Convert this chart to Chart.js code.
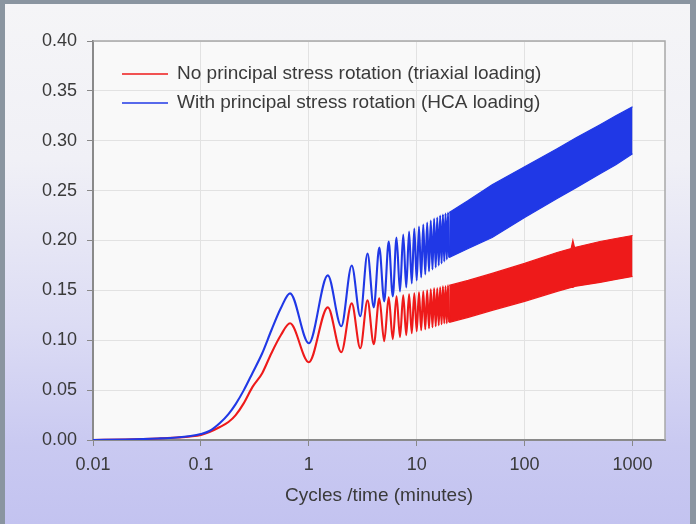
<!DOCTYPE html>
<html><head><meta charset="utf-8">
<script src="https://cdn.jsdelivr.net/npm/chart.js@4/dist/chart.umd.min.js"></script>
<style>
html,body{margin:0;padding:0;width:696px;height:524px;overflow:hidden;background:#8a95a0;}
#frame{position:absolute;left:5px;top:4px;width:685px;height:520px;
  background:linear-gradient(to bottom,#f5f5f7 0%,#f0f0f6 30%,#dcdcf4 62%,#c9c9f1 85%,#c3c3f0 100%);}
#wrap{position:absolute;left:0;top:0;width:696px;height:524px;}
</style></head><body>
<div id="frame"></div>
<div id="wrap"><canvas id="c" width="696" height="524"></canvas></div>
<script>
// ---- data ----
const legendLabels = ["No principal stress rotation (triaxial loading)", "With principal stress rotation (HCA loading)"];
const xTitle = "Cycles /time (minutes)";
const xTickValues = [0.01, 0.1, 1, 10, 100, 1000];
const xTickLabels = ["0.01", "0.1", "1", "10", "100", "1000"];
const yTickValues = [0, 0.05, 0.1, 0.15, 0.2, 0.25, 0.3, 0.35, 0.4];
const yTickLabels = ["0.00", "0.05", "0.10", "0.15", "0.20", "0.25", "0.30", "0.35", "0.40"];

// initial rise (before first cycle peak)
const earlyX    = [0.01, 0.02, 0.04, 0.06, 0.08, 0.1, 0.12, 0.15, 0.18, 0.21, 0.25, 0.3, 0.37, 0.45, 0.55, 0.67];
const redEarly  = [0, 0.0005, 0.0015, 0.0025, 0.0035, 0.005, 0.008, 0.013, 0.018, 0.025, 0.037, 0.053, 0.067, 0.087, 0.105, 0.117];
const blueEarly = [0, 0.0005, 0.0015, 0.0025, 0.004, 0.006, 0.009, 0.017, 0.026, 0.036, 0.05, 0.067, 0.087, 0.11, 0.132, 0.147];

// individual cycles (troughs at whole minutes, peaks half-way)
const cycleX = [1, 1.5, 2, 2.5, 3, 3.5, 4, 4.5, 5, 5.5, 6, 6.5, 7, 7.5, 8, 8.5, 9, 9.5, 10, 10.5,
                11, 11.5, 12, 12.5, 13, 13.5, 14, 14.5, 15, 15.5, 16, 16.5, 17, 17.5, 18, 18.5, 19, 19.5, 20];
const redCycle = [0.078, 0.133, 0.088, 0.137, 0.092, 0.140, 0.096, 0.142, 0.099, 0.143, 0.101, 0.144, 0.103, 0.145,
                  0.105, 0.146, 0.107, 0.147, 0.109, 0.148, 0.110, 0.149, 0.111, 0.150, 0.112, 0.151, 0.113, 0.152,
                  0.114, 0.152, 0.115, 0.153, 0.116, 0.154, 0.117, 0.154, 0.117, 0.155, 0.118];
const blueCycle = [0.097, 0.165, 0.114, 0.175, 0.124, 0.187, 0.133, 0.193, 0.139, 0.199, 0.144, 0.203, 0.149, 0.206,
                   0.153, 0.209, 0.157, 0.212, 0.160, 0.214, 0.163, 0.216, 0.166, 0.218, 0.169, 0.220, 0.171, 0.222,
                   0.173, 0.223, 0.175, 0.225, 0.177, 0.226, 0.179, 0.227, 0.181, 0.228, 0.183];

// dense oscillation band (upper / lower envelope)
const blueBandX     = [20, 30, 50, 100, 200, 300, 500, 700, 1000];
const blueBandUpper = [0.228, 0.240, 0.256, 0.274, 0.292, 0.303, 0.316, 0.325, 0.334];
const blueBandLower = [0.183, 0.192, 0.203, 0.223, 0.242, 0.253, 0.267, 0.276, 0.287];
const redBandX      = [20, 30, 50, 100, 200, 270, 280, 290, 500, 700, 1000];
const redBandUpper  = [0.155, 0.160, 0.167, 0.177, 0.188, 0.192, 0.200, 0.193, 0.199, 0.202, 0.205];
const redBandLower  = [0.118, 0.123, 0.130, 0.139, 0.149, 0.153, 0.153, 0.154, 0.158, 0.161, 0.164];

// ---- build ----
const RED = '#ee1a1a', BLUE = '#2038e6';
const pts = (xs, ys) => xs.map((x, i) => ({x: x, y: ys[i]}));
const FONT = "'Liberation Sans', Arial, sans-serif";

const decor = {
  id: 'decor',
  beforeDraw(chart) {
    const {ctx, chartArea: a} = chart;
    ctx.save();
    ctx.fillStyle = '#f9f9f9';
    ctx.fillRect(a.left, a.top, a.right - a.left, a.bottom - a.top);
    ctx.restore();
  },
  beforeDatasetsDraw(chart) {
    const {ctx, chartArea: a} = chart;
    ctx.save();
    ctx.strokeStyle = '#a8a8a8';
    ctx.lineWidth = 1.5;
    ctx.beginPath();
    ctx.moveTo(a.left, a.top); ctx.lineTo(a.right, a.top); ctx.lineTo(a.right, a.bottom);
    ctx.stroke();
    ctx.restore();
  },
  afterDraw(chart) {
    const {ctx, chartArea: a} = chart;
    const cols = [RED, BLUE];
    ctx.save();
    ctx.font = "19px " + FONT;
    ctx.textBaseline = 'middle';
    legendLabels.forEach((t, i) => {
      const y = a.top + 33 + i * 29;
      ctx.strokeStyle = cols[i]; ctx.lineWidth = 1.6;
      ctx.beginPath(); ctx.moveTo(a.left + 29, y); ctx.lineTo(a.left + 75, y); ctx.stroke();
      ctx.fillStyle = '#3a3a3a';
      ctx.fillText(t, a.left + 84, y);
    });
    ctx.restore();
  }
};

const lineBase = {pointRadius: 0, borderWidth: 2.1, cubicInterpolationMode: 'monotone', fill: false};

new Chart(document.getElementById('c'), {
  type: 'line',
  data: {
    datasets: [
      Object.assign({}, lineBase, {label: legendLabels[1], data: pts(earlyX.concat(cycleX), blueEarly.concat(blueCycle)), borderColor: BLUE, order: 0}),
      {label: 'bu', data: pts(blueBandX, blueBandUpper), borderColor: BLUE, backgroundColor: BLUE, borderWidth: 1.2, pointRadius: 0, tension: 0, fill: '+1', order: 1},
      {label: 'bl', data: pts(blueBandX, blueBandLower), borderColor: BLUE, borderWidth: 1.2, pointRadius: 0, tension: 0, fill: false, order: 1},
      Object.assign({}, lineBase, {label: legendLabels[0], data: pts(earlyX.concat(cycleX), redEarly.concat(redCycle)), borderColor: RED, order: 2}),
      {label: 'ru', data: pts(redBandX, redBandUpper), borderColor: RED, backgroundColor: RED, borderWidth: 1.2, pointRadius: 0, tension: 0, fill: '+1', order: 3},
      {label: 'rl', data: pts(redBandX, redBandLower), borderColor: RED, borderWidth: 1.2, pointRadius: 0, tension: 0, fill: false, order: 3}
    ]
  },
  options: {
    responsive: false,
    animation: false,
    devicePixelRatio: 1,
    layout: {padding: {left: 0, top: 41, right: 31, bottom: 0}},
    plugins: {legend: {display: false}, tooltip: {enabled: false}},
    scales: {
      x: {
        type: 'logarithmic', min: 0.01, max: 2000,
        afterBuildTicks: s => { s.ticks = xTickValues.map(v => ({value: v})); },
        afterFit: s => { s.height = 84; },
        ticks: {callback: (v, i) => xTickLabels[i], color: '#3a3a3a', font: {family: FONT, size: 18}, padding: 8, maxRotation: 0, autoSkip: false},
        grid: {color: '#e2e2e2', tickColor: '#888', tickLength: 6},
        border: {color: '#8a8a8a', width: 2},
        title: {display: true, text: xTitle, color: '#3a3a3a', font: {family: FONT, size: 19}, padding: {top: 0, bottom: 17}}
      },
      y: {
        type: 'linear', min: 0, max: 0.4,
        afterBuildTicks: s => { s.ticks = yTickValues.map(v => ({value: v})); },
        afterFit: s => { s.width = 93; },
        ticks: {callback: (v, i) => yTickLabels[i], color: '#3a3a3a', font: {family: FONT, size: 18}, padding: 10},
        grid: {color: '#e2e2e2', tickColor: '#888', tickLength: 6},
        border: {color: '#8a8a8a', width: 2}
      }
    }
  },
  plugins: [decor]
});
</script>
</body></html>
